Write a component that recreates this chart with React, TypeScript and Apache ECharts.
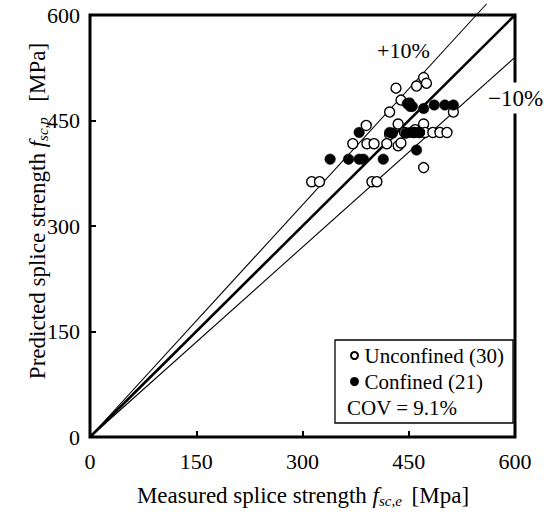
import React, { useEffect, useRef } from "react";
import * as echarts from "echarts";

// Measured (x) vs predicted (y) splice strength, MPa
const unconfined: [number, number][] = [
  [471, 511], [475, 503], [461, 499], [432, 496], [439, 479],
  [423, 462], [513, 462], [390, 443], [435, 445], [471, 445],
  [423, 430], [444, 433], [459, 437], [473, 433], [484, 433],
  [494, 433], [504, 433], [371, 417], [391, 417], [401, 417],
  [419, 417], [435, 414], [439, 418], [471, 383], [313, 363],
  [324, 363], [398, 363], [405, 363], [457, 433], [465, 433],
];
const confined: [number, number][] = [
  [448, 474], [455, 470], [471, 467], [486, 472], [501, 472],
  [513, 472], [380, 433], [423, 433], [452, 433], [458, 433],
  [465, 433], [339, 395], [365, 395], [380, 395], [386, 395],
  [414, 395], [461, 408], [451, 475], [452, 470], [446, 432],
  [427, 432],
];
const seriesNames = ["Unconfined (30)", "Confined (21)"];
const covText = "COV = 9.1%";
const bandFactors = { upper: 1.1, equal: 1.0, lower: 0.9 };
const bandLabels = { upper: "+10%", lower: "\u221210%" };
const axisMin = 0;
const axisMax = 600;
const axisInterval = 150;
const upperExtent = 616; // the +10% line runs past the frame top

const FONT = "Liberation Serif";

export default function App() {
  const ref = useRef<HTMLDivElement>(null);
  useEffect(() => {
    if (!ref.current) return;
    const chart = echarts.init(ref.current, undefined, { renderer: "svg" });
    const lineFor = (k: number, yEnd: number) => {
      const xEnd = Math.min(axisMax, yEnd / k);
      return [[0, 0], [xEnd, xEnd * k]];
    };
    const axisCommon = {
      type: "value" as const,
      min: axisMin,
      max: axisMax,
      interval: axisInterval,
      axisLine: { show: false },
      axisTick: { show: true, inside: true, length: 6, lineStyle: { color: "#000", width: 2 } },
      splitLine: { show: false },
    };
    const rich = {
      i: { fontSize: 23, fontStyle: "italic", fontFamily: FONT, color: "#000" },
      sub: { fontSize: 15, fontStyle: "italic", fontFamily: FONT, color: "#000", verticalAlign: "bottom", padding: [11, 4, 0, 0] },
    };
    chart.setOption({
      animation: false,
      textStyle: { fontFamily: FONT, color: "#000" },
      grid: {
        left: 90, right: 34, top: 15, bottom: 79,
        show: true, borderColor: "#000", borderWidth: 3, backgroundColor: "transparent",
      },
      xAxis: {
        ...axisCommon,
        axisLabel: { color: "#000", fontSize: 22, fontFamily: FONT, margin: 13 },
      },
      yAxis: {
        ...axisCommon,
        axisLabel: { color: "#000", fontSize: 22, fontFamily: FONT, margin: 10 },
      },
      legend: {
        orient: "vertical",
        left: 345,
        top: 340,
        itemWidth: 10,
        itemHeight: 7,
        itemGap: 5,
        icon: "circle",
        data: seriesNames,
        textStyle: { color: "#000", fontSize: 21, fontFamily: FONT },
      },
      graphic: [
        {
          type: "rect", z: 3,
          shape: { x: 335, y: 340, width: 178, height: 83 },
          style: { fill: "none", stroke: "#000", lineWidth: 1.3 },
        },
        {
          type: "text", z: 10, x: 347, y: 408,
          style: { text: covText, fontSize: 21, fontFamily: FONT, fill: "#000", verticalAlign: "middle" },
        },
        {
          type: "text", z: 10, x: 377, y: 50,
          style: { text: bandLabels.upper, fontSize: 22, fontFamily: FONT, fill: "#000", verticalAlign: "middle" },
        },
        {
          type: "text", z: 100, x: 487, y: 98,
          style: {
            text: bandLabels.lower, fontSize: 23, fontFamily: FONT, fill: "#000",
            verticalAlign: "middle", backgroundColor: "#fff", padding: [4, 2, 4, 1],
          },
        },
        {
          type: "text", z: 10, x: 303, y: 495,
          style: {
            text: "Measured splice strength {i|f}{sub|sc,e} [Mpa]",
            fontSize: 23, fontFamily: FONT, fill: "#000", align: "center", verticalAlign: "middle",
            rich,
          },
        },
        {
          type: "text", z: 10, x: 37, y: 211, rotation: Math.PI / 2,
          style: {
            text: "Predicted splice strength {i|f}{sub|sc,p}  [MPa]",
            fontSize: 23, fontFamily: FONT, fill: "#000", align: "center", verticalAlign: "middle",
            rich,
          },
        },
      ],
      series: [
        {
          type: "line", data: lineFor(bandFactors.equal, axisMax), showSymbol: false, z: 2,
          lineStyle: { color: "#000", width: 2.6 }, silent: true,
        },
        {
          type: "line", data: lineFor(bandFactors.upper, upperExtent), showSymbol: false, z: 2, clip: false,
          lineStyle: { color: "#000", width: 1.1 }, silent: true,
        },
        {
          type: "line", data: lineFor(bandFactors.lower, axisMax), showSymbol: false, z: 2,
          lineStyle: { color: "#000", width: 1.1 }, silent: true,
        },
        {
          name: seriesNames[0], type: "scatter", data: unconfined, symbol: "circle", symbolSize: 10, z: 5,
          itemStyle: { color: "#fff", borderColor: "#000", borderWidth: 1.4, opacity: 1 },
        },
        {
          name: seriesNames[1], type: "scatter", data: confined, symbol: "circle", symbolSize: 10.5, z: 6,
          itemStyle: { color: "#000", borderColor: "#000", borderWidth: 0.5, opacity: 1 },
        },
      ],
    });
    return () => chart.dispose();
  }, []);
  return (
    <div
      ref={ref}
      style={{ position: "absolute", left: 0, top: 0, width: 549, height: 516, background: "#fff" }}
    />
  );
}
